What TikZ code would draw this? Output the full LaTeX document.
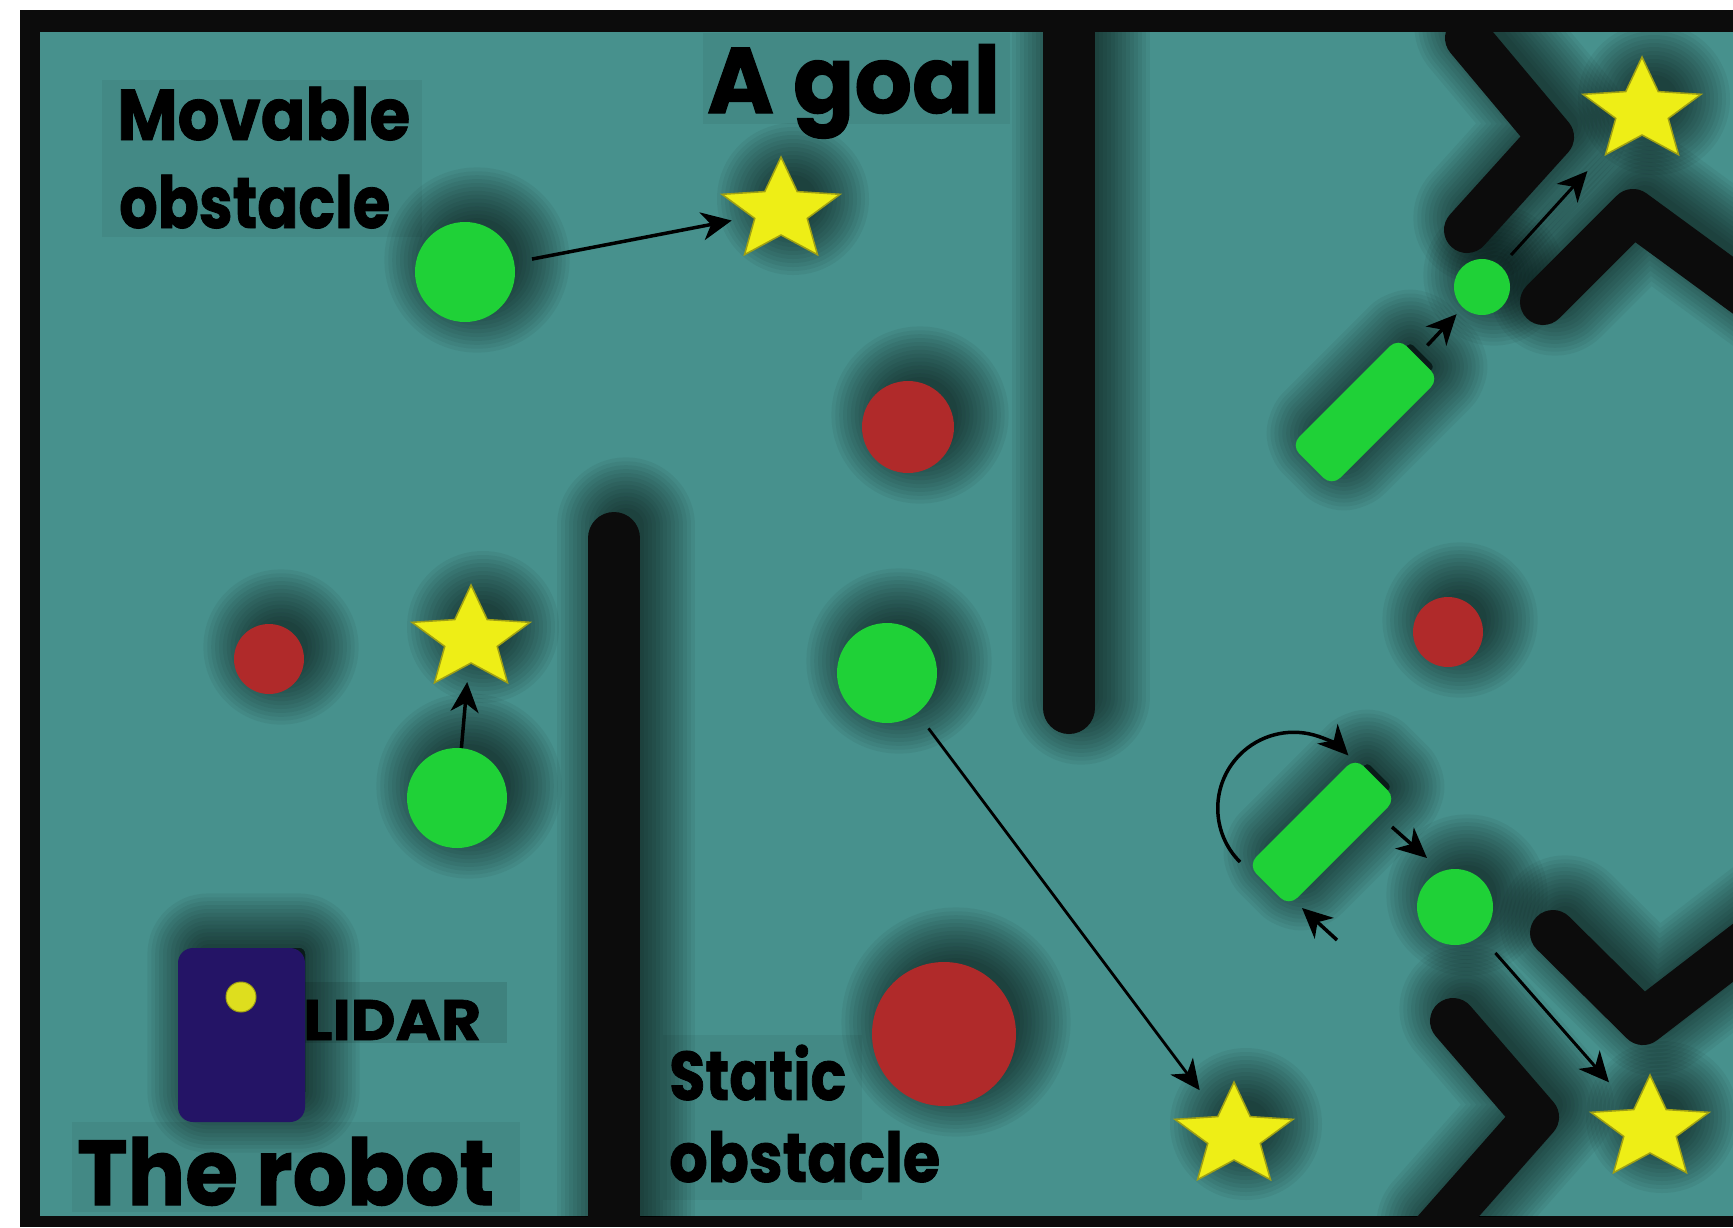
\documentclass[tikz,border=0pt]{standalone}
\usepackage{fontspec}
\usepackage{graphicx}
\newfontfamily\lblfont{Poppins Bold}[FakeBold=1.2]
\usetikzlibrary{arrows.meta}

\definecolor{floorteal}{RGB}{71,145,141}
\definecolor{movgreen}{RGB}{31,209,55}
\definecolor{statred}{RGB}{176,42,42}
\definecolor{goalyellow}{RGB}{238,238,22}
\definecolor{goaledge}{RGB}{160,160,20}
\definecolor{wallblack}{RGB}{12,12,12}
\definecolor{robotblue}{RGB}{36,20,102}
\definecolor{lidaryellow}{RGB}{222,222,30}

% five-pointed goal star around the local origin (y axis points down)
\newcommand\starpath{(-90:54) -- (-54:24) -- (-18:54) -- (18:24) -- (54:54) -- (90:24) -- (126:54) -- (162:24) -- (198:54) -- (234:24) -- cycle}

% soft drop shadows, built from stacked translucent layers that start
% inside the object and spread outwards, cast towards the upper right
\newcommand\roundshadow[2]{\begin{scope}[shift={(12,-12)}]\foreach \k in {1,...,14}{\fill[dimlayer] #1 circle ({#2-12+\k*3.9});}\end{scope}}
\newcommand\lineshadow[2]{\begin{scope}[shift={(12,-12)}]\foreach \k in {1,...,14}{\draw[dimlayer, line width={(#1-24+\k*7.8)*1pt}] #2;}\end{scope}}
\newcommand\starshadow[1]{\begin{scope}[shift={(12,-12)}, shift={#1}]\foreach \k in {1,...,14}{\fill[dimlayer] (0,0) circle ({20+\k*4});}\end{scope}}
\newcommand\crateshadow[1]{\begin{scope}[shift={(12,-12)}, shift={#1}, rotate=45]\foreach \k in {1,...,14}{\filldraw[dimlayer, rounded corners=4pt, line width={\k*7.8pt}] (-64,-17) rectangle (64,17);}\end{scope}}

% goal star with a named round spot for the connectors
\newcommand\goalstar[3]{%
  \begin{scope}[shift={(#2,#3)}, xscale=1.15]
    \filldraw[fill=goalyellow, draw=goaledge, line width=1.5pt, line join=miter] \starpath;
  \end{scope}
  \node[goalspot] (#1) at (#2,#3) {};}

\tikzset{
  dimlayer/.style={black, opacity=0.05, line cap=round, line join=round},
  wallseg/.style={draw=wallblack, line width=52pt, line cap=round, line join=round},
  chevron/.style={draw=wallblack, line width=46pt, line cap=round, line join=round},
  greenobs/.style={circle, fill=movgreen, inner sep=0pt},
  redobs/.style={circle, fill=statred, inner sep=0pt},
  cratebox/.style={rectangle, rounded corners=12pt, fill=movgreen, minimum width=152pt, minimum height=58pt, rotate=45, inner sep=0pt},
  goalspot/.style={circle, minimum size=100pt, inner sep=0pt},
  pusharrow/.style={draw=black, line width=3.5pt, -{Stealth[length=30pt,width=28pt,inset=9pt]}},
  labelbg/.style={fill=black, opacity=0.05},
  labeltext/.style={anchor=base west, inner sep=0pt, text=black},
}

\begin{document}
\begin{tikzpicture}[x=1pt, y=-1pt]
\useasboundingbox (0,0) rectangle (1733,1227);
\fill[white] (0,0) rectangle (1733,1227);
% frame and floor
\fill[wallblack] (20,10) rectangle (1733,1227);
\fill[floorteal] (40,32) rectangle (1733,1216);

\begin{scope}
\clip (40,32) rectangle (1733,1216);

% label backdrops
\fill[labelbg] (102,80) rectangle (422,237);
\fill[labelbg] (703,33) rectangle (1010,124);
\fill[labelbg, opacity=0.1] (304,982) rectangle (507,1043);
\fill[labelbg] (72,1122) rectangle (520,1212);
\fill[labelbg] (663,1035) rectangle (862,1200);

% shadows
\lineshadow{52}{(1069,0) -- (1069,708)}
\lineshadow{52}{(614,538) -- (614,1260)}
\lineshadow{46}{(1468,38) -- (1551,137) -- (1467,230)}
\lineshadow{46}{(1543,302) -- (1633,212) -- (1760,305)}
\lineshadow{46}{(1553,933) -- (1643,1022) -- (1760,932)}
\lineshadow{46}{(1453,1021) -- (1536,1117) -- (1430,1237)}
\roundshadow{(465,272)}{50}
\roundshadow{(457,798)}{50}
\roundshadow{(887,673)}{50}
\roundshadow{(1482,287)}{28}
\roundshadow{(1455,907)}{38}
\roundshadow{(908,427)}{46}
\roundshadow{(269,659)}{35}
\roundshadow{(944,1034)}{72}
\roundshadow{(1448,632)}{35}
\starshadow{(781,211)}
\starshadow{(471,639)}
\starshadow{(1234,1136)}
\starshadow{(1650,1129)}
\starshadow{(1642,111)}
\crateshadow{(1365,412)}
\crateshadow{(1322,832)}
\begin{scope}[shift={(12,-12)}]
\foreach \k in {1,...,14}{\filldraw[dimlayer, rounded corners=6pt, line width={\k*7.8pt}] (190,960) rectangle (293,1110);}
\end{scope}

% walls
\draw[wallseg] (1069,0) -- (1069,708);
\draw[wallseg] (614,538) -- (614,1260);
\draw[chevron] (1468,38) -- (1551,137) -- (1467,230);
\draw[chevron] (1543,302) -- (1633,212) -- (1760,305);
\draw[chevron] (1553,933) -- (1643,1022) -- (1760,932);
\draw[chevron] (1453,1021) -- (1536,1117) -- (1430,1237);

% static obstacles
\node[redobs, minimum size=92pt] (R1) at (908,427) {};
\node[redobs, minimum size=70pt] (R2) at (269,659) {};
\node[redobs, minimum size=144pt] (R3) at (944,1034) {};
\node[redobs, minimum size=70pt] (R4) at (1448,632) {};

% movable obstacles
\node[greenobs, minimum size=100pt] (G1) at (465,272) {};
\node[greenobs, minimum size=100pt] (G2) at (457,798) {};
\node[greenobs, minimum size=100pt] (G3) at (887,673) {};
\node[greenobs, minimum size=56pt] (G4) at (1482,287) {};
\node[greenobs, minimum size=76pt] (G5) at (1455,907) {};
\node[cratebox] (B1) at (1365,412) {};
\node[cratebox] (B2) at (1322,832) {};

% goals
\goalstar{S1}{781}{211}
\goalstar{S2}{471}{639}
\goalstar{S3}{1234}{1136}
\goalstar{S4}{1650}{1129}
\goalstar{S5}{1642}{111}

% robot with its lidar
\node[rectangle, rounded corners=15pt, fill=robotblue, minimum width=127pt, minimum height=174pt, inner sep=0pt] (robot) at (241.5,1035) {};
\node[circle, fill=lidaryellow, draw=goaledge, line width=1pt, minimum size=30pt, inner sep=0pt] (lidar) at (241,997) {};

% pushes
\draw[pusharrow, shorten <=18pt] (G1) -- (S1);
\draw[pusharrow, shorten >=-7pt] (G2) -- (S2);
\draw[pusharrow, line width=2.8pt, shorten <=19pt, shorten >=7pt] (G3) -- (S3);
\draw[pusharrow, line width=3pt, shorten <=15pt, shorten >=31pt] (G4) -- (S5);
\draw[pusharrow, shorten <=15pt, shorten >=9pt] (B1) -- (G4);
\draw[pusharrow, line width=3pt, shorten <=23pt, shorten >=12pt] (G5) -- (S4);
\coordinate (b2push) at (1392,827);
\coordinate (g5hit) at (1427,858);
\draw[pusharrow] (b2push) -- (g5hit);
\coordinate (b2tail) at (1337,940);
\coordinate (b2hit) at (1302,908);
\draw[pusharrow] (b2tail) -- (b2hit);
\coordinate (loopstart) at (1240,862);
\draw[pusharrow] (loopstart) arc[start angle=135, end angle=316, radius=76];
\end{scope}

% labels
\node[labeltext, font={\lblfont\fontsize{72}{72}\selectfont}] (movable1) at (117,140) {\resizebox{293pt}{\height}{Movable}};
\node[labeltext, font={\lblfont\fontsize{72}{72}\selectfont}] (movable2) at (119,228) {\resizebox{271pt}{\height}{obstacle}};
\node[labeltext, font={\lblfont\fontsize{93}{93}\selectfont}] (goallbl) at (707,113) {\resizebox{293pt}{\height}{A goal}};
\node[labeltext, font={\lblfont\fontsize{57}{57}\selectfont}] (lidarlbl) at (303,1040) {\resizebox{178pt}{\height}{LIDAR}};
\node[labeltext, font={\lblfont\fontsize{92}{92}\selectfont}] (robotlbl) at (77,1205) {\resizebox{417pt}{\height}{The robot}};
\node[labeltext, font={\lblfont\fontsize{69}{69}\selectfont}] (static1) at (669,1100) {\resizebox{177pt}{\height}{Static}};
\node[labeltext, font={\lblfont\fontsize{69}{69}\selectfont}] (static2) at (669,1182) {\resizebox{271pt}{\height}{obstacle}};
\end{tikzpicture}
\end{document}
